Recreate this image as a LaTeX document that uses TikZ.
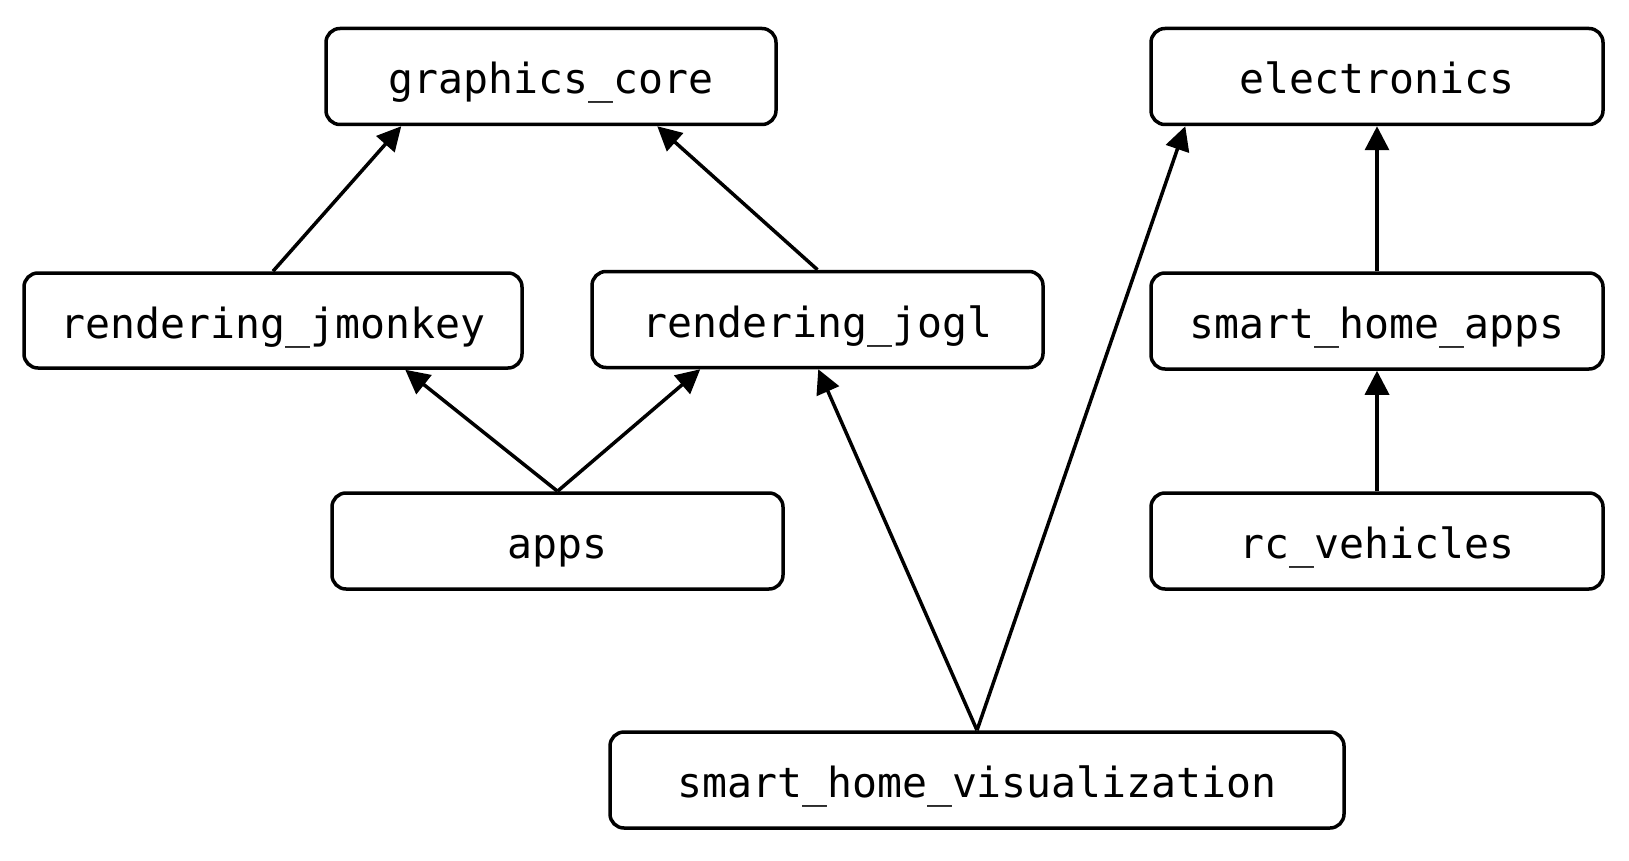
\documentclass[tikz,border=0pt]{standalone}
\usepackage{fontspec}
\setmonofont{DejaVu Sans Mono}
\usetikzlibrary{arrows.meta}
\begin{document}
\begin{tikzpicture}[x=1pt,y=-1pt,
  pkg/.style={draw=black, line width=3.5pt, rounded corners=14pt, inner sep=0pt,
    text height=40pt, text depth=5pt,
    font=\ttfamily\fontsize{41.5}{49}\selectfont, text=black, anchor=center},
  dep/.style={line width=3.5pt, -{Triangle[length=24pt,width=24pt]}}]
\useasboundingbox (0,0) rectangle (1629,861);
\node[pkg, minimum width=450pt, minimum height=96pt] (gc) at (551,76.5) {graphics\_core};
\node[pkg, minimum width=452pt, minimum height=96pt] (el) at (1377,76.5) {electronics};
\node[pkg, minimum width=498pt, minimum height=95pt] (rj) at (273,320.5) {rendering\_jmonkey};
\node[pkg, minimum width=451pt, minimum height=96pt] (rg) at (817.5,319.5) {rendering\_jogl};
\node[pkg, minimum width=452pt, minimum height=96pt] (sha) at (1377,321) {smart\_home\_apps};
\node[pkg, minimum width=451pt, minimum height=96pt] (apps) at (557.5,541) {apps};
\node[pkg, minimum width=452pt, minimum height=96pt] (rc) at (1377,541) {rc\_vehicles};
\node[pkg, minimum width=734pt, minimum height=96pt] (shv) at (977,780) {smart\_home\_visualization};
\coordinate (e1) at ([xshift=77pt]gc.south west);
\coordinate (e2) at ([xshift=333pt]gc.south west);
\coordinate (e3) at ([xshift=383pt]rj.south west);
\coordinate (e4) at ([xshift=110pt]rg.south west);
\coordinate (e5) at ([xshift=228pt]rg.south west);
\coordinate (e6) at ([xshift=36pt]el.south west);
\draw[dep] (rj.north) -- (e1);
\draw[dep] (rg.north) -- (e2);
\draw[dep] (apps.north) -- (e3);
\draw[dep] (apps.north) -- (e4);
\draw[dep] (shv.north) -- (e5);
\draw[dep] (shv.north) -- (e6);
\draw[dep] (sha.north) -- (el.south);
\draw[dep] (rc.north) -- (sha.south);
\end{tikzpicture}
\end{document}
